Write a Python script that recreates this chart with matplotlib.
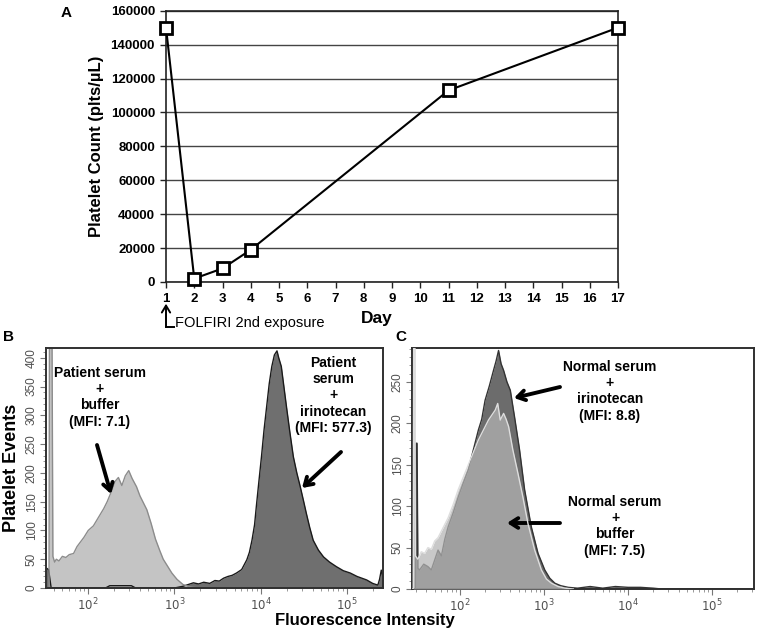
"""Platelet count time course (A) and flow cytometry overlays (B, C)."""

import matplotlib
matplotlib.use("Agg")
import matplotlib.pyplot as plt
import numpy as np
from matplotlib.ticker import FixedLocator, LogLocator, MultipleLocator, NullFormatter

plt.rcParams["font.family"] = ["Liberation Sans", "DejaVu Sans"]

# panel A: platelet counts
days = [1, 2, 3, 4, 11, 17]
platelets = [150000, 2000, 8000, 19000, 113000, 150000]
day_ticks = list(range(1, 18))
count_ticks = list(range(0, 160001, 20000))

# panel B: patient serum (log10 fluorescence, events)
b_buffer_logx = [1.51, 1.545, 1.55, 1.58, 1.59, 1.61, 1.63, 1.66, 1.70, 1.74, 1.78, 1.83,
                 1.87, 1.91, 1.95, 2.00, 2.06, 2.10, 2.14, 2.18, 2.22, 2.27, 2.31, 2.35,
                 2.39, 2.43, 2.47, 2.51, 2.56, 2.60, 2.64, 2.68, 2.73, 2.78, 2.83, 2.87,
                 2.92, 2.97, 3.03, 3.10, 3.16, 3.22, 3.30]
b_buffer_counts = [0, 0, 430, 430, 55, 45, 50, 47, 55, 53, 58, 60, 72, 80, 88, 100, 108,
                   118, 128, 138, 150, 168, 185, 192, 178, 195, 204, 190, 176, 160, 148,
                   136, 112, 85, 65, 50, 38, 26, 15, 6, 3, 1, 0]
b_irino_logx = [1.51, 1.54, 1.57, 1.60, 2.20, 2.25, 2.50, 2.55, 3.00, 3.10, 3.16, 3.22,
                3.28, 3.34, 3.41, 3.47, 3.52, 3.57, 3.62, 3.67, 3.72, 3.78, 3.84, 3.87,
                3.90, 3.93, 3.95, 3.98, 4.01, 4.04, 4.07, 4.10, 4.13, 4.16, 4.19, 4.21,
                4.24, 4.27, 4.30, 4.34, 4.38, 4.42, 4.46, 4.50, 4.53, 4.57, 4.61, 4.67,
                4.73, 4.80, 4.88, 4.96, 5.04, 5.12, 5.23, 5.30, 5.36, 5.38, 5.40, 5.42]
b_irino_counts = [35, 32, 0, 0, 0, 4, 4, 0, 0, 3, 6, 9, 7, 10, 8, 13, 12, 17, 20, 22, 26,
                  32, 49, 62, 83, 110, 141, 185, 228, 275, 315, 355, 385, 405, 412, 400,
                  385, 350, 315, 270, 228, 200, 176, 150, 130, 105, 83, 66, 54, 45, 37,
                  30, 26, 20, 14, 8, 5, 15, 31, 20]

# panel C: normal serum
c_irino_logx = [1.43, 1.47, 1.475, 1.49, 1.50, 1.52, 1.57, 1.62, 1.66, 1.70, 1.74, 1.78,
                1.82, 1.86, 1.92, 1.98, 2.04, 2.10, 2.14, 2.18, 2.22, 2.26, 2.30, 2.35,
                2.40, 2.43, 2.46, 2.49, 2.52, 2.56, 2.60, 2.65, 2.71, 2.77, 2.85, 2.93,
                3.01, 3.07, 3.13, 3.20, 3.29, 3.40, 3.55, 3.70, 3.85, 4.00, 4.15, 4.30,
                4.40, 5.50]
c_irino_counts = [0, 0, 176, 176, 25, 23, 30, 27, 23, 35, 47, 40, 60, 75, 92, 111, 128,
                  144, 160, 176, 192, 205, 228, 245, 264, 275, 288, 272, 264, 250, 240,
                  208, 168, 120, 75, 43, 23, 13, 7, 4, 2, 1, 3, 1, 3, 2, 2, 1, 0, 0]
c_buffer_logx = [1.43, 1.445, 1.45, 1.465, 1.47, 1.50, 1.54, 1.58, 1.62, 1.66, 1.70, 1.74,
                 1.78, 1.82, 1.86, 1.92, 1.98, 2.04, 2.10, 2.16, 2.22, 2.28, 2.34, 2.38,
                 2.42, 2.45, 2.48, 2.52, 2.55, 2.58, 2.63, 2.69, 2.75, 2.81, 2.89, 2.97,
                 3.03, 3.09, 3.17, 3.25, 3.35]
c_buffer_counts = [0, 0, 291, 291, 40, 36, 45, 43, 50, 48, 58, 62, 70, 78, 86, 102, 120,
                   135, 150, 165, 180, 192, 204, 210, 216, 224, 204, 212, 205, 196, 168,
                   140, 111, 79, 47, 23, 12, 7, 3, 1, 0]

fig = plt.figure(figsize=(7.62, 6.36), dpi=100)
W, H = 762, 636


def px_axes(left, top, right, bottom):
    return fig.add_axes([left / W, 1 - bottom / H, (right - left) / W, (bottom - top) / H])


# ---- A ----
ax = px_axes(166, 10.7, 618, 282)
ax.plot(days, platelets, color="black", lw=1.5, marker="s", ms=8, mfc="white",
        mec="black", mew=2, zorder=3, clip_on=False)
ax.set_xlim(1, 17)
ax.set_ylim(0, 160000)
ax.set_xticks(day_ticks)
ax.set_yticks(count_ticks)
ax.yaxis.grid(True, color="#444444", lw=1)
ax.set_axisbelow(True)
for side in ("top", "right", "left", "bottom"):
    ax.spines[side].set_color("#222222")
    ax.spines[side].set_linewidth(1.2)
ax.tick_params(axis="both", direction="out", length=4, width=1, color="#222222",
               labelsize=9.5, pad=4)
for lab in ax.get_xticklabels() + ax.get_yticklabels():
    lab.set_fontweight("bold")
ax.set_ylabel("Platelet Count (plts/\u00b5L)", fontsize=12, fontweight="bold", labelpad=5)
ax.text(8.47, -0.133, "Day", transform=ax.get_xaxis_transform(), ha="center",
        va="center", fontsize=12.5, fontweight="bold")
ax.annotate("", xy=(1, -0.08), xytext=(1, -0.165), xycoords=ax.get_xaxis_transform(),
            arrowprops=dict(arrowstyle="->,head_length=0.5,head_width=0.3", lw=1.4,
                            color="black", shrinkA=0, shrinkB=0),
            annotation_clip=False)
ax.plot([1, 1.27], [-0.165, -0.165], color="black", lw=1.4,
        transform=ax.get_xaxis_transform(), clip_on=False)
ax.text(1.33, -0.15, "FOLFIRI 2nd exposure", transform=ax.get_xaxis_transform(),
        ha="left", va="center", fontsize=10.5)
fig.text(66 / W, 1 - 13 / H, "A", ha="center", va="center", fontsize=11, fontweight="bold")


def flow_axes(a, xmin, xmax, ymax, ymajor):
    a.set_xscale("log")
    a.set_xlim(10 ** xmin, 10 ** xmax)
    a.set_ylim(0, ymax)
    a.xaxis.set_major_locator(FixedLocator([1e2, 1e3, 1e4, 1e5]))
    a.xaxis.set_minor_locator(LogLocator(base=10, subs=np.arange(2, 10)))
    a.xaxis.set_minor_formatter(NullFormatter())
    a.set_xticklabels(["$10^2$", "$10^3$", "$10^4$", "$10^5$"])
    a.yaxis.set_major_locator(MultipleLocator(ymajor))
    a.yaxis.set_minor_locator(MultipleLocator(10))
    for side in a.spines.values():
        side.set_color("#303030")
        side.set_linewidth(1.4)
    a.tick_params(axis="both", which="major", direction="out", length=4, width=0.8,
                  color="#777777", labelsize=8.5, labelcolor="#505050", pad=2)
    a.tick_params(axis="both", which="minor", direction="out", length=2.5, width=0.6,
                  color="#888888")
    for lab in a.get_yticklabels():
        lab.set_rotation(90)
        lab.set_va("center")


def label_arrow(a, text, tx, ty, start, end):
    a.text(tx / W, 1 - ty / H, text, transform=fig.transFigure, ha="center", va="top",
           fontsize=10, fontweight="bold", linespacing=1.2)
    a.annotate("", xy=(end[0] / W, 1 - end[1] / H), xytext=(start[0] / W, 1 - start[1] / H),
               xycoords=fig.transFigure,
               arrowprops=dict(arrowstyle="->,head_length=0.55,head_width=0.35", lw=2.8,
                               color="black", shrinkA=0, shrinkB=0))


# ---- B ----
axb = px_axes(46, 348, 383, 588)
bx1 = 10 ** np.array(b_buffer_logx)
bx2 = 10 ** np.array(b_irino_logx)
axb.fill_between(bx2, b_irino_counts, color="#6f6f6f", lw=0, zorder=1)
axb.plot(bx2, b_irino_counts, color="#1a1a1a", lw=1.0, zorder=2)
axb.fill_between(bx1, b_buffer_counts, color="#c4c4c4", lw=0, zorder=1)
axb.plot(bx1, b_buffer_counts, color="#8c8c8c", lw=1.0, zorder=2)
flow_axes(axb, 1.51, 5.42, 417, 50)
axb.set_ylabel("Platelet Events", fontsize=13, fontweight="bold", labelpad=4)
label_arrow(axb, "Patient serum\n+\nbuffer\n(MFI: 7.1)", 100, 366, (97, 445), (111, 494))
label_arrow(axb, "Patient\nserum\n+\nirinotecan\n(MFI: 577.3)", 333, 356, (341, 452),
            (302, 488))
fig.text(8 / W, 1 - 337 / H, "B", ha="center", va="center", fontsize=11, fontweight="bold")

# ---- C ----
axc = px_axes(412, 348, 754, 589)
cx1 = 10 ** np.array(c_irino_logx)
cx2 = 10 ** np.array(c_buffer_logx)
axc.fill_between(cx1, c_irino_counts, color="#6c6c6c", lw=0, zorder=1)
axc.plot(cx1, c_irino_counts, color="#333333", lw=1.0, zorder=2)
axc.fill_between(cx2, c_buffer_counts, color="#b4b4b4", alpha=0.73, lw=0, zorder=3)
axc.plot(cx2, c_buffer_counts, color="#dedede", lw=1.0, zorder=4)
flow_axes(axc, 1.43, 5.5, 291, 50)
label_arrow(axc, "Normal serum\n+\nirinotecan\n(MFI: 8.8)", 610, 360, (560, 387), (514, 398))
label_arrow(axc, "Normal serum\n+\nbuffer\n(MFI: 7.5)", 615, 495, (560, 523), (507, 523))
fig.text(401 / W, 1 - 337 / H, "C", ha="center", va="center", fontsize=11, fontweight="bold")

fig.text(365 / W, 1 - 620 / H, "Fluorescence Intensity", ha="center", va="center",
         fontsize=12, fontweight="bold")

fig.savefig("out.png", dpi=100)
